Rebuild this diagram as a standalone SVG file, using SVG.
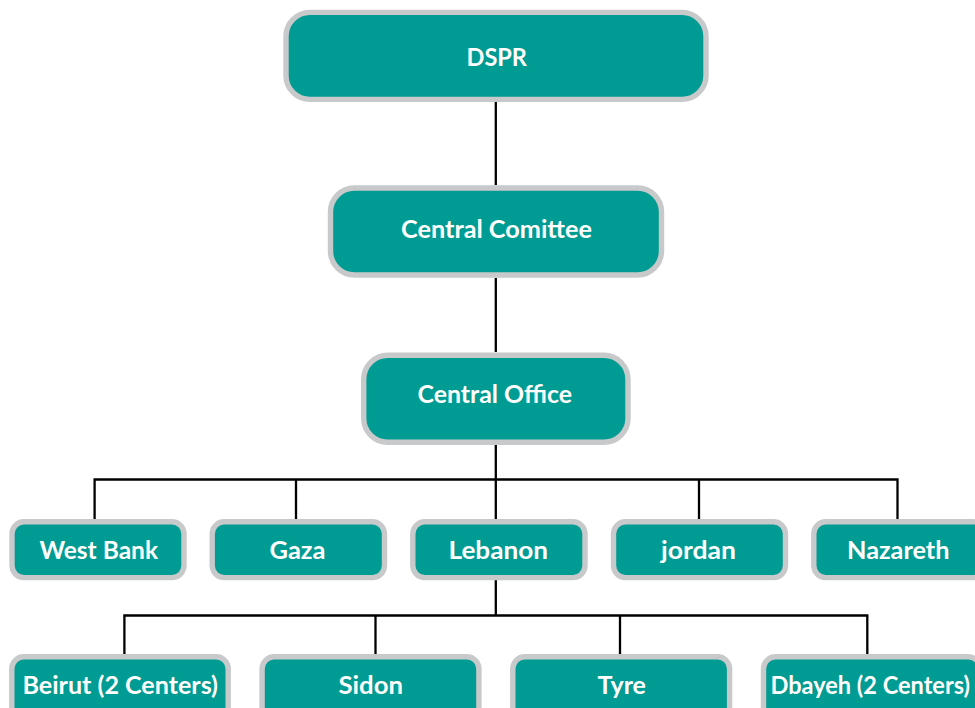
<svg xmlns="http://www.w3.org/2000/svg" width="975" height="708" viewBox="0 0 975 708">
<style>
.box{fill:#009b92;stroke:#c8c9ca;stroke-width:5.4}
.t{fill:#fff;font-family:"Lato","Noto Sans",sans-serif;font-weight:700;font-size:25.5px}
.s{font-size:23.8px}
.c{fill:none;stroke:#000;stroke-width:2.3}
</style>
<rect width="975" height="708" fill="#fff"/>
<g id="connectors" class="c">
<path d="M495.8 102V185M495.8 278V352M495.8 445V519M495.8 580V615.5"/>
<path d="M94.6 519V479.5H897.5V519M296 479.5V519M699 479.5V519"/>
<path d="M124.4 654V615.5H867.3V654M375.5 615.5V654M620 615.5V654"/>
</g>
<g id="n-dspr"><rect class="box" x="286" y="12.4" width="420" height="87" rx="24"/><text class="t" x="466.5" y="65.5" textLength="60.5" lengthAdjust="spacingAndGlyphs">DSPR</text></g>
<g id="n-committee"><rect class="box" x="330.5" y="188" width="331" height="87" rx="24"/><text class="t" x="401" y="238" textLength="191" lengthAdjust="spacingAndGlyphs">Central Comittee</text></g>
<g id="n-office"><rect class="box" x="363.7" y="355.3" width="264.3" height="87" rx="24"/><text class="t" x="417.5" y="403" textLength="154.5" lengthAdjust="spacingAndGlyphs">Central Office</text></g>
<g id="n-westbank"><rect class="box" x="12" y="521.8" width="172" height="55.8" rx="12"/><text class="t" x="39.5" y="559" textLength="118.5" lengthAdjust="spacingAndGlyphs">West Bank</text></g>
<g id="n-gaza"><rect class="box" x="212.2" y="521.8" width="172.3" height="55.8" rx="12"/><text class="t" x="269.5" y="559" textLength="56" lengthAdjust="spacingAndGlyphs">Gaza</text></g>
<g id="n-lebanon"><rect class="box" x="412.8" y="521.8" width="172.2" height="55.8" rx="12"/><text class="t" x="448.5" y="559" textLength="99.5" lengthAdjust="spacingAndGlyphs">Lebanon</text></g>
<g id="n-jordan"><rect class="box" x="613.5" y="521.8" width="172" height="55.8" rx="12"/><text class="t" x="661" y="559" textLength="75" lengthAdjust="spacingAndGlyphs">jordan</text></g>
<g id="n-nazareth"><rect class="box" x="813.8" y="521.8" width="172" height="55.8" rx="12"/><text class="t" x="847" y="559" textLength="102.5" lengthAdjust="spacingAndGlyphs">Nazareth</text></g>
<g id="n-beirut"><rect class="box" x="11.8" y="656.8" width="216.4" height="70" rx="12"/><text class="t s" x="22.5" y="694" textLength="195.5" lengthAdjust="spacingAndGlyphs">Beirut (2 Centers)</text></g>
<g id="n-sidon"><rect class="box" x="262.1" y="656.8" width="216.8" height="70" rx="12"/><text class="t" x="338.5" y="694" textLength="64.5" lengthAdjust="spacingAndGlyphs">Sidon</text></g>
<g id="n-tyre"><rect class="box" x="512.8" y="656.8" width="216.8" height="70" rx="12"/><text class="t" x="597.5" y="694" textLength="48.5" lengthAdjust="spacingAndGlyphs">Tyre</text></g>
<g id="n-dbayeh"><rect class="box" x="763.5" y="656.8" width="216.8" height="70" rx="12"/><text class="t s" x="770.5" y="694" textLength="199.5" lengthAdjust="spacingAndGlyphs">Dbayeh (2 Centers)</text></g>
</svg>
